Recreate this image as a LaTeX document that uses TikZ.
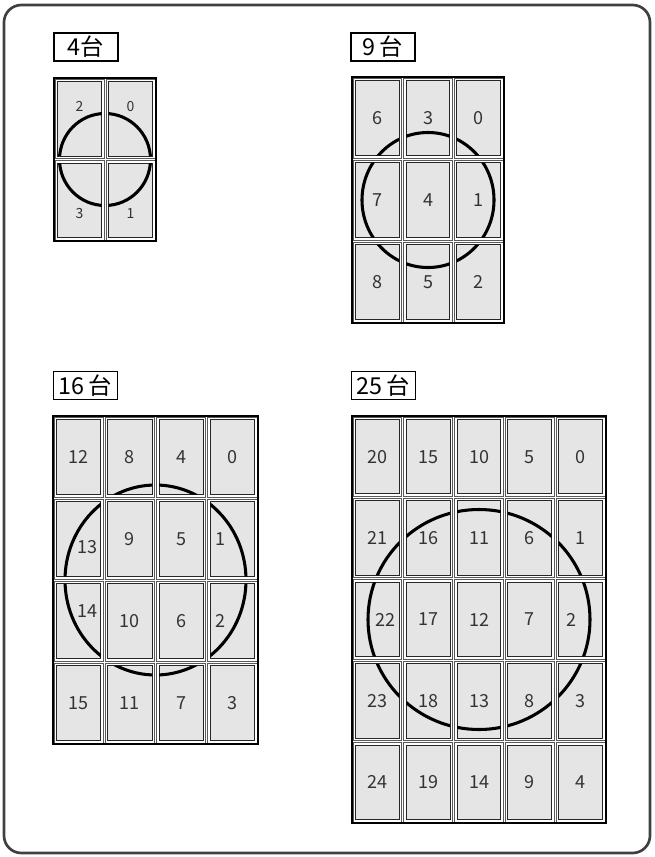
\documentclass[tikz,border=0pt]{standalone}
\usepackage{fontspec}
\usepackage{tikz}
\newfontfamily\jpfont{Noto Sans CJK JP}
\tikzset{
    outerframe/.style={draw=black!75, line width=2pt, rounded corners=13pt},
    tag/.style={draw, line width=1.1pt, minimum width=48pt, minimum height=21pt,
        inner sep=0pt, font=\jpfont\fontsize{17.5}{17.5}\selectfont},
    bezel/.style={draw=black!65, fill=white, line width=0.6pt},
    screen/.style={draw=black!85, fill=black!10, line width=0.7pt},
    rim/.style={draw=black, line width=1.6pt},
    ring/.style={draw=black, line width=2.3pt},
    num/.style={text=black!80, inner sep=0pt},
    % numbers that sit off the centre of their screen
    nudge 2-2/.style={yshift=9pt},
    nudge 2-0/.style={yshift=9pt},
    nudge 2-3/.style={yshift=-9.75pt},
    nudge 2-1/.style={yshift=-9.75pt},
    nudge 4-13/.style={xshift=6.75pt, yshift=-6pt},
    nudge 4-14/.style={xshift=6.75pt, yshift=7.5pt},
    nudge 4-1/.style={xshift=-9pt},
    nudge 4-2/.style={xshift=-9pt},
    nudge 5-22/.style={xshift=6pt},
    nudge 5-2/.style={xshift=-6.75pt}
}

\begin{document}
\begin{tikzpicture}[x=0.75pt, y=-0.75pt]
    \useasboundingbox (0,0) rectangle (654,857);
    \draw[outerframe] (4,5) rectangle (650,853);

    \node[tag] (tag4) at (86,47) {4台};
    \node[tag] (tag9) at (383,47) {9\,台};
    \node[tag] (tag16) at (85.5,385.5) {16\,台};
    \node[tag] (tag25) at (383.5,385.5) {25\,台};

    % n / left / top / cell width / cell height / ring radii / font size
    \foreach \n/\gx/\gy/\cw/\ch/\rx/\ry/\fs in {2/54/78/51/81.5/45.5/46/10.5,
        3/352/77/50.67/82/66/67.5/13.5, 4/53/416/51.25/82/90.5/95/13.5,
        5/352/416/50.8/81.4/111/110/13.5}{
      \pgfmathtruncatemacro\m{\n-1}
      \foreach \c in {0,...,\m}{
        \foreach \r in {0,...,\m}{
          \pgfmathsetmacro\xa{\gx+\c*\cw}
          \pgfmathsetmacro\ya{\gy+\r*\ch}
          \pgfmathtruncatemacro\k{(\n-1-\c)*\n+\r}
          \draw[bezel] (\xa+1,\ya+1) rectangle ++(\cw-2,\ch-2);
          \draw[screen] (\xa+3.5,\ya+3.5) rectangle ++(\cw-7,\ch-7);
          \node[num, font=\jpfont\fontsize{\fs}{\fs}\selectfont, nudge \n-\k/.try]
            (w\n-\k) at (\xa+\cw/2,\ya+\ch/2) {\k};
        }
      }
      \draw[rim] (\gx,\gy) rectangle ++(\n*\cw,\n*\ch);
      \begin{scope}
        \clip \foreach \c in {0,...,\m}{ \foreach \r in {0,...,\m}{
          (\gx+\c*\cw+3.5,\gy+\r*\ch+3.5) rectangle ++(\cw-7,\ch-7) } };
        \draw[ring] (\gx+\n*\cw/2,\gy+\n*\ch/2)
          ellipse [x radius=\rx*0.75pt, y radius=\ry*0.75pt];
      \end{scope}
    }
\end{tikzpicture}
\end{document}
